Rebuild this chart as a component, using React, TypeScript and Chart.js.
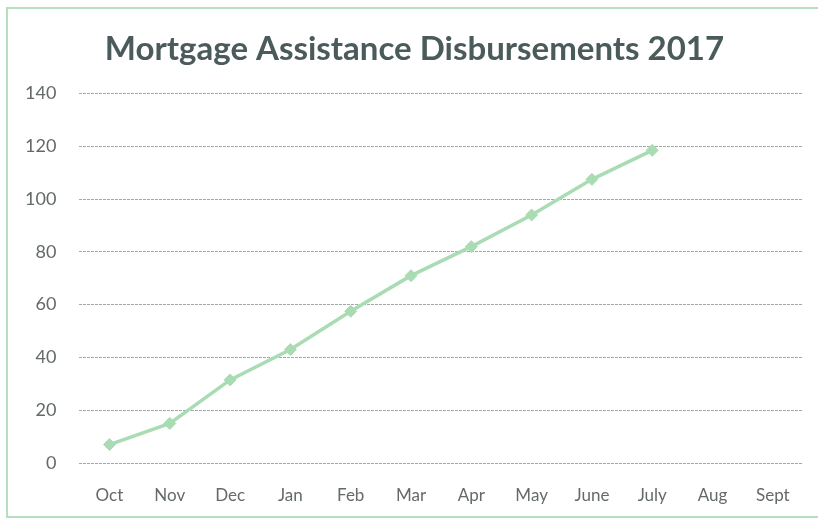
import React, { useEffect, useRef } from "react";
import { Chart, registerables } from "chart.js";

Chart.register(...registerables);

const months = ["Oct", "Nov", "Dec", "Jan", "Feb", "Mar", "Apr", "May", "June", "July", "Aug", "Sept"];
const disbursements: (number | null)[] = [7, 15, 31.5, 43, 57.5, 71, 82, 94, 107.5, 118.5, null, null];
const yTicks = [0, 20, 40, 60, 80, 100, 120, 140];
const titleText = "Mortgage Assistance Disbursements 2017";

const titleShift = {
  id: "titleShift",
  afterLayout(chart: any) {
    const t = chart.titleBlock;
    if (t) {
      t.left += 12;
      t.right += 12;
    }
  },
};

export default function App() {
  const ref = useRef<HTMLCanvasElement | null>(null);
  useEffect(() => {
    document.body.style.margin = "0";
    const ctx = ref.current!;
    const chart = new Chart(ctx, {
      type: "line",
      data: {
        labels: months,
        datasets: [
          {
            data: disbursements,
            borderColor: "#a9dcb3",
            backgroundColor: "#a9dcb3",
            borderWidth: 3.5,
            pointStyle: "rectRot",
            pointRadius: 6,
            pointBorderWidth: 1,
            tension: 0,
            spanGaps: false,
          },
        ],
      },
      plugins: [titleShift],
      options: {
        responsive: false,
        animation: false,
        layout: { padding: { left: 2, right: 15, top: 20, bottom: 0 } },
        plugins: {
          legend: { display: false },
          tooltip: { enabled: false },
          title: {
            display: true,
            text: titleText,
            color: "#4b5a5a",
            font: { family: "Lato", size: 33, weight: "bold" },
            padding: { top: 10, bottom: 24 },
          },
        },
        scales: {
          x: {
            offset: true,
            grid: { display: false, drawTicks: false },
            border: { display: false },
            afterFit: (axis: any) => {
              axis.height = 60;
            },
            ticks: {
              color: "#646a6a",
              font: { family: "Lato", size: 17 },
              padding: 22,
              maxRotation: 0,
              autoSkip: false,
            },
          },
          y: {
            min: 0,
            max: 140,
            afterBuildTicks: (axis: any) => {
              axis.ticks = yTicks.map((v) => ({ value: v }));
            },
            grid: { color: "#a2a8a8", lineWidth: 1, drawTicks: false },
            border: { display: false, dash: [3, 1] },
            ticks: {
              color: "#646a6a",
              font: { family: "Lato", size: 18 },
              padding: 23,
            },
          },
        },
      },
    });
    return () => chart.destroy();
  }, []);
  return (
    <div style={{ position: "relative", width: 818, height: 523, background: "#fff" }}>
      <div
        style={{
          position: "absolute",
          left: 6,
          top: 7,
          width: 818,
          height: 511,
          border: "2px solid #b5dfbd",
          boxSizing: "border-box",
        }}
      />
      <canvas ref={ref} width={818} height={523} style={{ position: "absolute", left: 0, top: 0 }} />
    </div>
  );
}
